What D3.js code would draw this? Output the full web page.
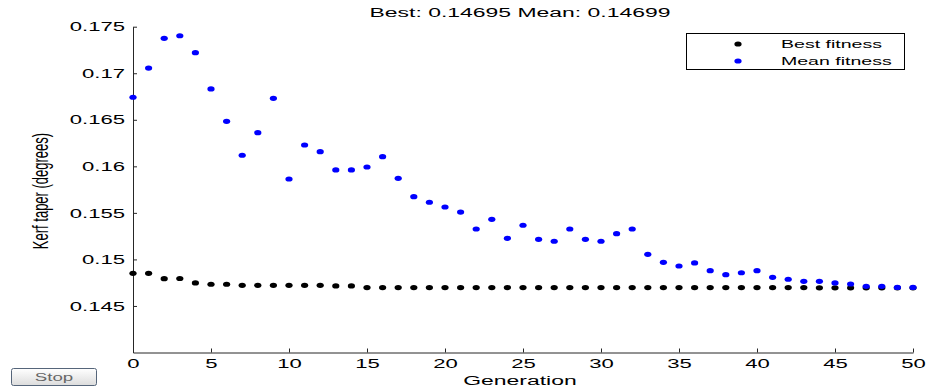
<!DOCTYPE html>
<html>
<head>
<meta charset="utf-8">
<script src="https://cdn.jsdelivr.net/npm/d3@7"></script>
<style>
  html, body { margin: 0; padding: 0; background: #fff; }
  svg { display: block; font-family: "Liberation Sans", Arial, sans-serif; }
</style>
</head>
<body>
<svg id="chart" width="928" height="389"></svg>
<script>
// ========================
// Data
// ========================
const bestFitness = [
  0.14851, 0.14851, 0.14793, 0.14795, 0.14747, 0.14733, 0.14733, 0.14722, 0.14722, 0.14722,
  0.14722, 0.14722, 0.14722, 0.14715, 0.14715, 0.14698, 0.14698, 0.14698, 0.14698, 0.14698,
  0.14698, 0.14698, 0.14698, 0.14698, 0.14698, 0.14698, 0.14698, 0.14698, 0.14698, 0.14698,
  0.14698, 0.14698, 0.14698, 0.14698, 0.14698, 0.14698, 0.14698, 0.14698, 0.14698, 0.14698,
  0.14698, 0.14698, 0.14698, 0.14698, 0.14695, 0.14695, 0.14695, 0.14695, 0.14695, 0.14695,
  0.14695
];
const meanFitness = [
  0.16742, 0.17056, 0.17375, 0.17403, 0.17221, 0.16831, 0.16484, 0.16119, 0.16361, 0.16731,
  0.15864, 0.16229, 0.16157, 0.15961, 0.15961, 0.15993, 0.16104, 0.15871, 0.15674, 0.15614,
  0.15563, 0.15509, 0.15327, 0.15431, 0.15227, 0.15367, 0.15216, 0.15195, 0.15327, 0.15216,
  0.15195, 0.15277, 0.15327, 0.15055, 0.14969, 0.14929, 0.14962, 0.14879, 0.14836, 0.14857,
  0.14879, 0.14808, 0.14787, 0.14765, 0.14765, 0.14747, 0.14736, 0.14711, 0.14711, 0.14699,
  0.14699
];
const xTicks = [0, 5, 10, 15, 20, 25, 30, 35, 40, 45, 50];
const yTicks = [0.145, 0.15, 0.155, 0.16, 0.165, 0.17, 0.175];
const xDomain = [0, 50];
const yDomain = [0.14, 0.175];
const titleText = "Best: 0.14695 Mean: 0.14699";
const xLabel = "Generation";
const yLabel = "Kerf taper (degrees)";
const legendItems = [
  { label: "Best fitness", color: "#000000" },
  { label: "Mean fitness", color: "#0000ff" }
];

// ========================
// Setup
// ========================
const SX = 1.7; // the reference text is stretched horizontally
const svg = d3.select("#chart");

const x = d3.scaleLinear().domain(xDomain).range([133, 913]);
const y = d3.scaleLinear().domain(yDomain).range([352.5, 26.7]);

// stretched text helper
function stretchedText(g, str, tx, ty, size, anchor) {
  return g.append("text")
    .attr("transform", `translate(${tx},${ty}) scale(${SX},1)`)
    .attr("text-anchor", anchor || "middle")
    .style("font-size", size + "px")
    .attr("fill", "#000")
    .text(str);
}

// Axes
const xAxis = svg.append("g")
  .attr("transform", `translate(0,${y(yDomain[0])})`)
  .call(d3.axisBottom(x).tickValues(xTicks).tickSizeInner(-4).tickSizeOuter(0).tickPadding(6)
    .tickFormat(d => d));
xAxis.selectAll("text")
  .attr("transform", `scale(${SX},1)`)
  .style("font-size", "13px")
  .attr("fill", "#000");

const yAxis = svg.append("g")
  .attr("transform", `translate(${x(xDomain[0])},0)`)
  .call(d3.axisLeft(y).tickValues(yTicks).tickSizeInner(-4).tickSizeOuter(0)
    .tickFormat(d => String(+d.toFixed(3))));
yAxis.selectAll("text")
  .attr("x", -8 / SX)
  .attr("transform", `scale(${SX},1)`)
  .style("font-size", "13px")
  .attr("fill", "#000");

svg.selectAll(".domain, .tick line").attr("stroke", "#262626");
svg.selectAll(".tick line").attr("stroke-width", 1);

// Series
function drawDots(values, color) {
  svg.append("g")
    .selectAll("ellipse")
    .data(values)
    .enter()
    .append("ellipse")
    .attr("cx", (d, i) => x(i))
    .attr("cy", d => y(d))
    .attr("rx", 3.6)
    .attr("ry", 2.6)
    .attr("fill", color);
}
drawDots(bestFitness, legendItems[0].color);
drawDots(meanFitness, legendItems[1].color);

// Title and labels
stretchedText(svg, titleText, 520, 17, 13.5);
stretchedText(svg, xLabel, 520, 385, 13.5);

svg.append("text")
  .attr("transform", `translate(48,191) rotate(-90) scale(1,${SX})`)
  .attr("text-anchor", "middle")
  .style("font-size", "13px")
  .attr("fill", "#000")
  .text(yLabel);

// Legend
const legend = svg.append("g");
legend.append("rect")
  .attr("x", 686.5).attr("y", 33.5)
  .attr("width", 218).attr("height", 36)
  .attr("fill", "#fff")
  .attr("stroke", "#000")
  .attr("stroke-width", 1);
legendItems.forEach((item, i) => {
  const ly = 44 + i * 17;
  legend.append("ellipse")
    .attr("cx", 738).attr("cy", ly)
    .attr("rx", 3.6).attr("ry", 2.6)
    .attr("fill", item.color);
  stretchedText(legend, item.label, 781, ly + 4, 11.5, "start");
});

// Stop button
const defs = svg.append("defs");
const grad = defs.append("linearGradient")
  .attr("id", "btn").attr("x1", 0).attr("y1", 0).attr("x2", 0).attr("y2", 1);
grad.append("stop").attr("offset", "0%").attr("stop-color", "#ffffff");
grad.append("stop").attr("offset", "100%").attr("stop-color", "#dcdcdc");

const btn = svg.append("g");
btn.append("rect")
  .attr("x", 11.5).attr("y", 368.5)
  .attr("width", 85).attr("height", 17)
  .attr("rx", 2)
  .attr("fill", "url(#btn)")
  .attr("stroke", "#55657a");
btn.append("text")
  .attr("transform", `translate(54,381) scale(${SX},1)`)
  .attr("text-anchor", "middle")
  .style("font-size", "11px")
  .attr("fill", "#666")
  .text("Stop");
</script>
</body>
</html>
